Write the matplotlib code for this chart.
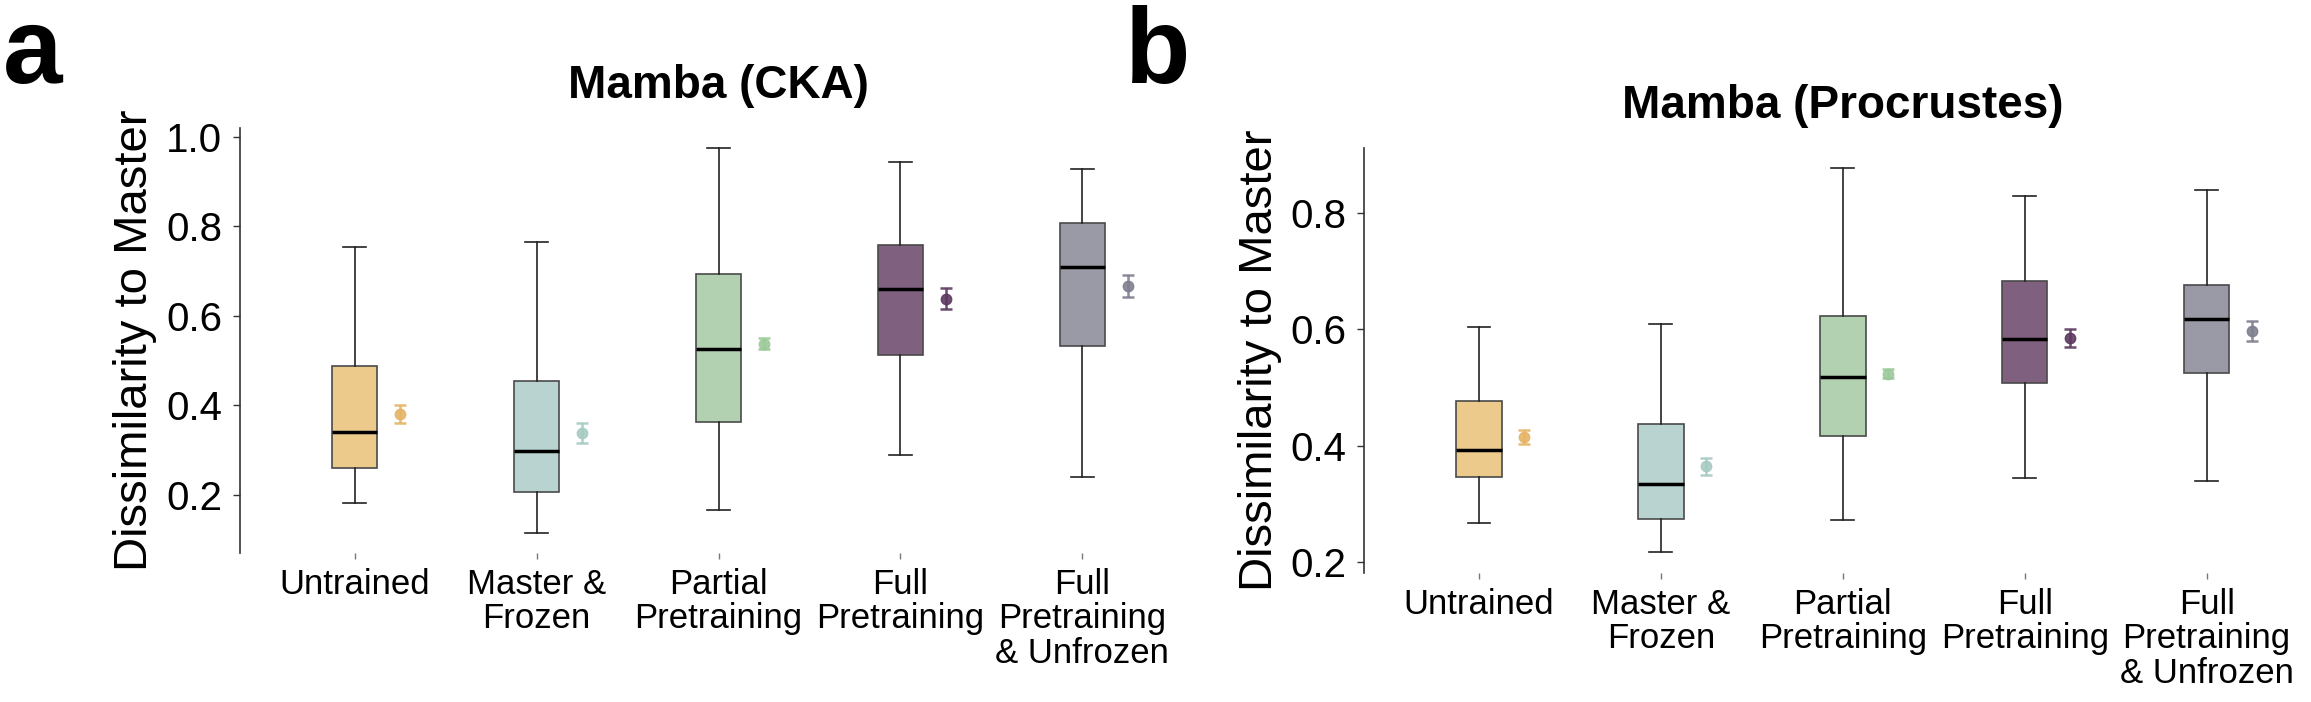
import matplotlib
matplotlib.use("Agg")
import matplotlib.pyplot as plt

plt.rcParams['font.family'] = ['Liberation Sans', 'DejaVu Sans']

categories = ['Untrained', 'Master &\nFrozen', 'Partial\nPretraining',
              'Full\nPretraining', 'Full\nPretraining\n& Unfrozen']

box_colors = ['#EBCA8C', '#B9D4D0', '#B1D1B0', '#80607F', '#999AA5']
mean_colors = ['#E6B466', '#A6CBC3', '#9CC999', '#5C3A60', '#7E7F8F']

# Panel a: Mamba (CKA)
a_whislo = [0.181, 0.116, 0.167, 0.289, 0.240]
a_q1 = [0.261, 0.207, 0.362, 0.513, 0.533]
a_med = [0.340, 0.298, 0.526, 0.659, 0.708]
a_q3 = [0.488, 0.454, 0.693, 0.758, 0.808]
a_whishi = [0.754, 0.765, 0.975, 0.943, 0.927]
a_mean = [0.381, 0.338, 0.538, 0.638, 0.667]
a_err = [0.020, 0.022, 0.012, 0.023, 0.025]

# Panel b: Mamba (Procrustes)
b_whislo = [0.267, 0.216, 0.271, 0.344, 0.339]
b_q1 = [0.346, 0.273, 0.416, 0.507, 0.525]
b_med = [0.393, 0.334, 0.518, 0.584, 0.618]
b_q3 = [0.477, 0.437, 0.624, 0.683, 0.676]
b_whishi = [0.604, 0.610, 0.878, 0.830, 0.841]
b_mean = [0.415, 0.364, 0.524, 0.585, 0.597]
b_err = [0.0125, 0.015, 0.008, 0.016, 0.0175]

W, H = 2311, 702
fig = plt.figure(figsize=(W / 100, H / 100), dpi=100)


def draw_panel(ax, title, whislo, q1, med, q3, whishi, mean, err, ylim, yticks):
    pos = list(range(len(categories)))
    stats = []
    for i in pos:
        stats.append(dict(whislo=whislo[i], q1=q1[i], med=med[i], q3=q3[i],
                          whishi=whishi[i], fliers=[]))
    bp = ax.bxp(stats, positions=pos, widths=0.25, patch_artist=True,
                showfliers=False,
                boxprops=dict(linewidth=1.2, edgecolor='#4a4a4a'),
                whiskerprops=dict(linewidth=1.2, color='#222222'),
                capprops=dict(linewidth=1.2, color='#222222'),
                medianprops=dict(linewidth=2.5, color='black'))
    for patch, c in zip(bp['boxes'], box_colors):
        patch.set_facecolor(c)
    for i in pos:
        ax.errorbar(i + 0.25, mean[i], yerr=err[i], fmt='o', color=mean_colors[i],
                    markersize=7.5, elinewidth=1.8, capsize=4.5, capthick=1.8,
                    alpha=0.9)
    ax.set_xlim(-0.63, 4.63)
    ax.set_ylim(*ylim)
    ax.set_yticks(yticks)
    ax.set_yticklabels([f'{t:.1f}' for t in yticks])
    ax.set_xticks(pos)
    ax.set_xticklabels(categories, fontsize=25, linespacing=1.05)
    ax.tick_params(axis='y', labelsize=29, length=5, width=1.0, pad=8,
                   color='#333333')
    ax.tick_params(axis='x', length=4, width=1.0, pad=7, color='#777777')
    for s in ['top', 'right', 'bottom']:
        ax.spines[s].set_visible(False)
    ax.spines['left'].set_linewidth(1.2)
    ax.spines['left'].set_color('#333333')
    ax.set_ylabel('Dissimilarity to Master', fontsize=34, labelpad=6)
    ax.set_title(title, fontsize=33, fontweight='bold', pad=22)


ax_w = 957 / W
ax_h = 424.4 / H
ax1 = fig.add_axes([240 / W, (H - 552.7) / H, ax_w, ax_h])
draw_panel(ax1, 'Mamba (CKA)', a_whislo, a_q1, a_med, a_q3, a_whishi,
           a_mean, a_err, (0.071, 1.0185), [0.2, 0.4, 0.6, 0.8, 1.0])

ax2 = fig.add_axes([1364.3 / W, (H - 572.7) / H, ax_w, ax_h])
draw_panel(ax2, 'Mamba (Procrustes)', b_whislo, b_q1, b_med, b_q3, b_whishi,
           b_mean, b_err, (0.181, 0.912), [0.2, 0.4, 0.6, 0.8])

fig.text(3 / W, (H - 83) / H, 'a', fontsize=77, fontweight='bold', va='baseline')
fig.text(1125 / W, (H - 83) / H, 'b', fontsize=77, fontweight='bold', va='baseline')

fig.savefig('out.png', dpi=100)
